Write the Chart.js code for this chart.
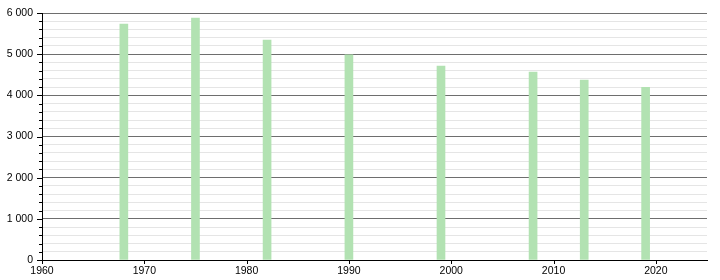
<!DOCTYPE html>
<html>
<head>
<meta charset="utf-8">
<script src="https://cdn.jsdelivr.net/npm/chart.js@4/dist/chart.umd.min.js"></script>
<style>
html,body{margin:0;padding:0;background:#fff;}
#wrap{width:720px;height:280px;position:relative;}
</style>
</head>
<body>
<div id="wrap"><canvas id="c"></canvas></div>
<script>
const years = [1968, 1975, 1982, 1990, 1999, 2008, 2013, 2019];
const population = [5732, 5878, 5344, 4985, 4712, 4566, 4372, 4195];
const xTickYears = [1960, 1970, 1980, 1990, 2000, 2010, 2020];
const yMajorTicks = [0, 1000, 2000, 3000, 4000, 5000, 6000];

const FONT = {family: '"Liberation Sans", Arial, sans-serif', size: 10.5};

function fmt(v){
  return String(v).replace(/\B(?=(\d{3})+(?!\d))/g, '\u00a0');
}

const tickMarks = {
  id: 'tickMarks',
  afterDraw(chart){
    const ctx = chart.ctx;
    const xs = chart.scales.x, ys = chart.scales.y;
    ctx.save();
    ctx.strokeStyle = '#000';
    ctx.lineWidth = 1;
    ys.ticks.forEach(t => {
      const py = Math.round(ys.getPixelForValue(t.value)) + 0.5;
      const len = yMajorTicks.includes(t.value) ? 5 : 3;
      ctx.beginPath();
      ctx.moveTo(xs.left - len, py);
      ctx.lineTo(xs.left, py);
      ctx.stroke();
    });
    xTickYears.forEach(v => {
      const px = Math.round(xs.getPixelForValue(v)) + 0.5;
      ctx.beginPath();
      ctx.moveTo(px, ys.bottom);
      ctx.lineTo(px, ys.bottom + 4);
      ctx.stroke();
    });
    ctx.restore();
  }
};

new Chart(document.getElementById('c'), {
  type: 'bar',
  data: {
    datasets: [{
      data: years.map((x, i) => ({x: x, y: population[i]})),
      backgroundColor: 'rgb(178,226,178)',
      borderWidth: 0,
      barThickness: 8
    }]
  },
  options: {
    responsive: true,
    maintainAspectRatio: false,
    animation: false,
    layout: {padding: {left: 0, top: 13, right: 13, bottom: 0}},
    plugins: {legend: {display: false}, tooltip: {enabled: false}},
    scales: {
      x: {
        type: 'linear',
        min: 1960,
        max: 2025,
        offset: false,
        grid: {display: false, offset: false, drawTicks: false},
        border: {display: true, color: '#000', width: 1},
        afterBuildTicks: s => { s.ticks = xTickYears.map(v => ({value: v})); },
        afterFit: s => { s.height = 20; },
        ticks: {
          padding: 5,
          color: '#000',
          font: FONT,
          maxRotation: 0,
          autoSkip: false,
          callback: v => String(v)
        }
      },
      y: {
        min: 0,
        max: 6000,
        grid: {
          drawTicks: true,
          tickLength: 9,
          tickColor: 'rgba(0,0,0,0)',
          color: c => (c.tick && yMajorTicks.includes(c.tick.value)) ? '#6e6e6e' : '#e5e5e5',
          lineWidth: 1
        },
        border: {display: true, color: '#000', width: 1},
        afterFit: s => { s.width = 42; },
        ticks: {
          stepSize: 200,
          padding: 0,
          color: '#000',
          font: FONT,
          autoSkip: false,
          callback: v => yMajorTicks.includes(v) ? fmt(v) : ''
        }
      }
    }
  },
  plugins: [tickMarks]
});
</script>
</body>
</html>
